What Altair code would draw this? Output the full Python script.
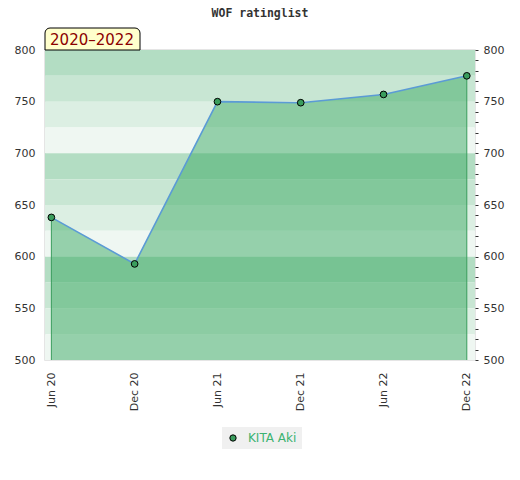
import altair as alt
import pandas as pd

# ---- data ----
dates = ["2020-06-01", "2020-12-01", "2021-06-01", "2021-12-01", "2022-06-01", "2022-12-01"]
ratings = [638, 593, 750, 749, 757, 775]
player = "KITA Aki"
chart_title = "WOF ratinglist"
period_label = "2020–2022"

band_lo = [775, 750, 725, 700, 675, 650, 625, 600, 575, 550, 525, 500]
band_colors = ["#b3ddc3", "#c8e6d3", "#dcefe3", "#eff7f2"] * 3

y_left_ticks = [500, 550, 600, 650, 700, 750, 800]
y_right_ticks = list(range(500, 801, 10))

df = pd.DataFrame({"date": pd.to_datetime(dates), "rating": ratings, "player": player})
bands = pd.DataFrame({"lo": band_lo, "hi": [v + 25 for v in band_lo], "c": band_colors})
edges = df.iloc[[0, -1]]

W, H = 430, 310
ydom = [500, 800]

def dt(s):
    t = pd.Timestamp(s)
    return alt.DateTime(year=t.year, month=t.month, date=t.day, utc=True)

xscale = alt.Scale(type="utc", domain=[dt("2020-05-18"), dt("2022-12-19")])
xaxis = alt.Axis(values=[dt(d) for d in dates],
                 labelExpr="utcFormat(datum.value, '%b %y')",
                 labelAngle=270, labelAlign="right", labelBaseline="middle",
                 labelPadding=12, ticks=False, domain=False, grid=False, title=None,
                 labelFont="DejaVu Sans", labelFontSize=11, labelColor="#333")
X = alt.X("date:T", scale=xscale, axis=xaxis)

def Y(axis=None):
    return alt.Y("rating:Q", scale=alt.Scale(domain=ydom, zero=False, nice=False), axis=axis, title=None)

left_axis = alt.Axis(values=y_left_ticks, orient="left", ticks=False, domain=False, grid=False,
                     labelPadding=10, labelFont="DejaVu Sans", labelFontSize=11, labelColor="#333")
right_axis = alt.Axis(values=y_right_ticks, orient="right", tickSize=3, tickColor="#333",
                      domain=False, grid=False, labelPadding=5,
                      labelExpr="datum.value % 50 == 0 ? datum.label : ''",
                      labelFont="DejaVu Sans", labelFontSize=11, labelColor="#333")

bg = alt.Chart(bands).mark_rect().encode(
    x=alt.value(0), x2=alt.value(W),
    y=alt.Y("lo:Q", scale=alt.Scale(domain=ydom, zero=False, nice=False), axis=left_axis, title=None),
    y2="hi:Q",
    color=alt.Color("c:N", scale=None),
)

base = alt.Chart(df)
area = base.mark_area(color="#3caa64", opacity=0.5).encode(x=X, y=Y(right_axis), y2=alt.datum(500))
rules = alt.Chart(edges).mark_rule(color="#3a9d5d", strokeWidth=1).encode(x=X, y=Y(), y2=alt.datum(500))
line = base.mark_line(color="#5b9bd5", strokeWidth=1.6).encode(x=X, y=Y())
pts = base.mark_point(filled=True, size=45, stroke="black", strokeWidth=1, opacity=1).encode(
    x=X, y=Y(),
    fill=alt.Fill("player:N", scale=alt.Scale(range=["#3a9d5d"]),
                  legend=alt.Legend(orient="none", legendX=177, legendY=377, title=None,
                                    fillColor="#f0f0f0", padding=5, symbolType="circle",
                                    symbolSize=40, symbolStrokeColor="black", symbolStrokeWidth=1,
                                    labelColor="#3cb371", labelFont="DejaVu Sans", labelFontSize=12,
                                    labelOffset=9)),
)

badge_df = pd.DataFrame({"t": [period_label]})
badge = alt.Chart(badge_df).mark_rect(fill="#ffffcc", stroke="black", strokeWidth=1,
                                      cornerRadiusTopLeft=5, cornerRadiusTopRight=5).encode(
    x=alt.value(0), x2=alt.value(95), y=alt.value(-22), y2=alt.value(0))
badge_txt = alt.Chart(badge_df).mark_text(font="DejaVu Sans", fontSize=15, color="#8b0000",
                                          align="center", baseline="middle").encode(
    x=alt.value(47), y=alt.value(-10), text="t:N")

chart = alt.layer(bg, area, rules, line, pts, badge, badge_txt).resolve_scale(
    y="independent"
).properties(
    width=W, height=H,
    title=alt.TitleParams(chart_title, font="DejaVu Sans Mono", fontSize=11.5, fontWeight="bold",
                          color="#333", anchor="middle", baseline="middle", offset=14, dy=12),
    autosize=alt.AutoSizeParams(type="none"),
    padding={"left": 37, "top": 42, "right": 37, "bottom": 110},
).configure_view(stroke="#dddddd", strokeWidth=1.5)

chart.save("out.html", embed_options={"renderer": "svg", "actions": False})
